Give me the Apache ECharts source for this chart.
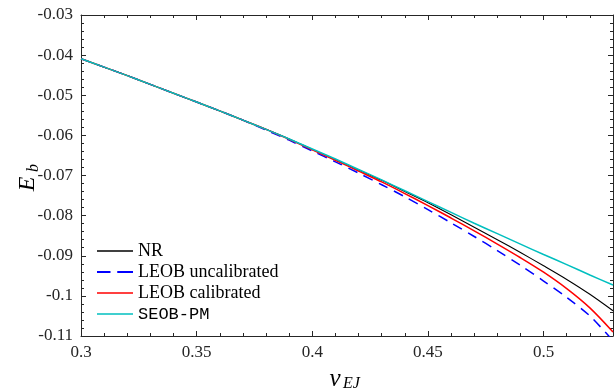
<!DOCTYPE html>
<html>
<head>
<meta charset="utf-8">
<script src="https://cdn.jsdelivr.net/npm/echarts@6/dist/echarts.min.js"></script>
<style>
html,body{margin:0;padding:0;background:#fff;}
#chart{width:616px;height:392px;}
</style>
</head>
<body>
<div id="chart"></div>
<script>
// ---- data ----
const vEJ = [0.30,0.31,0.32,0.33,0.34,0.35,0.36,0.37,0.38,0.39,0.40,0.41,0.42,0.43,0.44,0.45,0.46,0.47,0.48,0.49,0.50,0.51,0.52,0.53];
const NR = [-0.0409,-0.0430,-0.0451,-0.0473,-0.0495,-0.0517,-0.0539,-0.0562,-0.0585,-0.0609,-0.0635,-0.0660,-0.0686,-0.0712,-0.0740,-0.0768,-0.0798,-0.0829,-0.0860,-0.0892,-0.0925,-0.0959,-0.0996,-0.1037];
const LEOB_uncal = [-0.0409,-0.0430,-0.0451,-0.0473,-0.0495,-0.0517,-0.0539,-0.0562,-0.0587,-0.0612,-0.0639,-0.0666,-0.0694,-0.0723,-0.0753,-0.0785,-0.0818,-0.0852,-0.0887,-0.0924,-0.0963,-0.1004,-0.1050,-0.1112];
const LEOB_cal = [-0.0409,-0.0430,-0.0451,-0.0473,-0.0495,-0.0517,-0.0539,-0.0562,-0.0585,-0.0610,-0.0636,-0.0662,-0.0689,-0.0716,-0.0745,-0.0775,-0.0806,-0.0838,-0.0871,-0.0905,-0.0941,-0.0982,-0.1030,-0.1090];
const SEOB_PM = [-0.0409,-0.0430,-0.0451,-0.0473,-0.0495,-0.0517,-0.0539,-0.0562,-0.0585,-0.0609,-0.0634,-0.0659,-0.0685,-0.0711,-0.0738,-0.0765,-0.0792,-0.0819,-0.0845,-0.0871,-0.0897,-0.0922,-0.0948,-0.0973];
const seriesNames = ['NR','LEOB uncalibrated','LEOB calibrated','SEOB-PM'];
const xTicks = {min:0.3, max:0.53, interval:0.05};
const yTicks = {min:-0.11, max:-0.03, interval:0.01};

const pair = (ys) => vEJ.map((x,i)=>[x, ys[i]]);
const AX = '#262626';
const SERIF = '"Liberation Serif","Times New Roman",serif';
const MONO = '"Liberation Mono","DejaVu Sans Mono",monospace';

function fmt(v){ return String(parseFloat(v.toFixed(4))); }

function axisCommon(showLabel){
  return {
    axisLine:{show:true,onZero:false,lineStyle:{color:AX,width:1}},
    axisTick:{show:true,inside:true,length:5,lineStyle:{color:AX,width:1}},
    minorTick:{show:true,splitNumber:5,length:3,lineStyle:{color:AX,width:1}},
    splitLine:{show:false},
    axisLabel:{show:showLabel,color:AX,fontFamily:SERIF,fontSize:17,margin:8}
  };
}

const chart = echarts.init(document.getElementById('chart'),null,{renderer:'canvas'});
const xb = Object.assign({type:'value',position:'bottom',min:xTicks.min,max:xTicks.max,interval:xTicks.interval}, axisCommon(true));
xb.axisLabel.formatter = function(v){ return (Math.abs(v/0.05 - Math.round(v/0.05))<1e-6) ? fmt(v) : ''; };
const xt = Object.assign({type:'value',position:'top',min:xTicks.min,max:xTicks.max,interval:xTicks.interval}, axisCommon(false));
const yl = Object.assign({type:'value',position:'left',min:yTicks.min,max:yTicks.max,interval:yTicks.interval}, axisCommon(true));
yl.axisLabel.formatter = function(v){ return fmt(v); };
const yr = Object.assign({type:'value',position:'right',min:yTicks.min,max:yTicks.max,interval:yTicks.interval}, axisCommon(false));

const colors = ['#000000','#0000ff','#ff0000','#00bfbf'];
const datas = [NR, LEOB_uncal, LEOB_cal, SEOB_PM];
const series = seriesNames.map((n,i)=>({
  name:n, type:'line', xAxisIndex:0, yAxisIndex:0,
  data: pair(datas[i]), showSymbol:false, symbol:'none', smooth:0.3,
  clip:true, animation:false,
  lineStyle:{color:colors[i], width: i===0 ? 1.1 : 1.5, type: i===1 ? [10,7] : 'solid'},
  itemStyle:{color:colors[i]},
  z: 2+i
}));

const SOLID_ICON = 'path://M0,0h36v1.5h-36z';
const DASH_ICON = 'path://M0,0h12v1.7h-12z M18,0h14v1.7h-14z';
const legendData = seriesNames.map((n,i)=>({name:n, icon: i===1 ? DASH_ICON : SOLID_ICON}));

chart.setOption({
  backgroundColor:'#ffffff',
  animation:false,
  grid:{left:81,right:2,top:15,bottom:56,containLabel:false},
  xAxis:[xb, xt],
  yAxis:[yl, yr],
  legend:{
    show:true, orient:'vertical', left:92, top:237,
    itemWidth:36, itemHeight:14, itemGap:3, symbolKeepAspect:true,
    data: legendData,
    textStyle:{fontFamily:SERIF,fontSize:18,color:'#000',lineHeight:18,
      rich:{tt:{fontFamily:MONO,fontSize:17,color:'#000',lineHeight:18}}},
    formatter:function(n){ return n==='SEOB-PM' ? '{tt|SEOB-PM}' : n; }
  },
  graphic:[
    {type:'group', x:28, y:174, rotation:Math.PI/2, children:[
      {type:'text', x:-10, y:0, style:{text:'E', font:'italic 24px '+SERIF, fill:'#000', textAlign:'center', textVerticalAlign:'middle'}},
      {type:'text', x:2, y:6, style:{text:'b', font:'italic 16px '+SERIF, fill:'#000', textAlign:'left', textVerticalAlign:'middle'}}
    ]},
    {type:'group', x:347, y:379, children:[
      {type:'text', x:-12, y:0, style:{text:'v', font:'italic 25px '+SERIF, fill:'#000', textAlign:'center', textVerticalAlign:'middle'}},
      {type:'text', x:-4, y:5, style:{text:'EJ', font:'italic 16px '+SERIF, fill:'#000', textAlign:'left', textVerticalAlign:'middle'}}
    ]}
  ],
  series: series
});
</script>
</body>
</html>
